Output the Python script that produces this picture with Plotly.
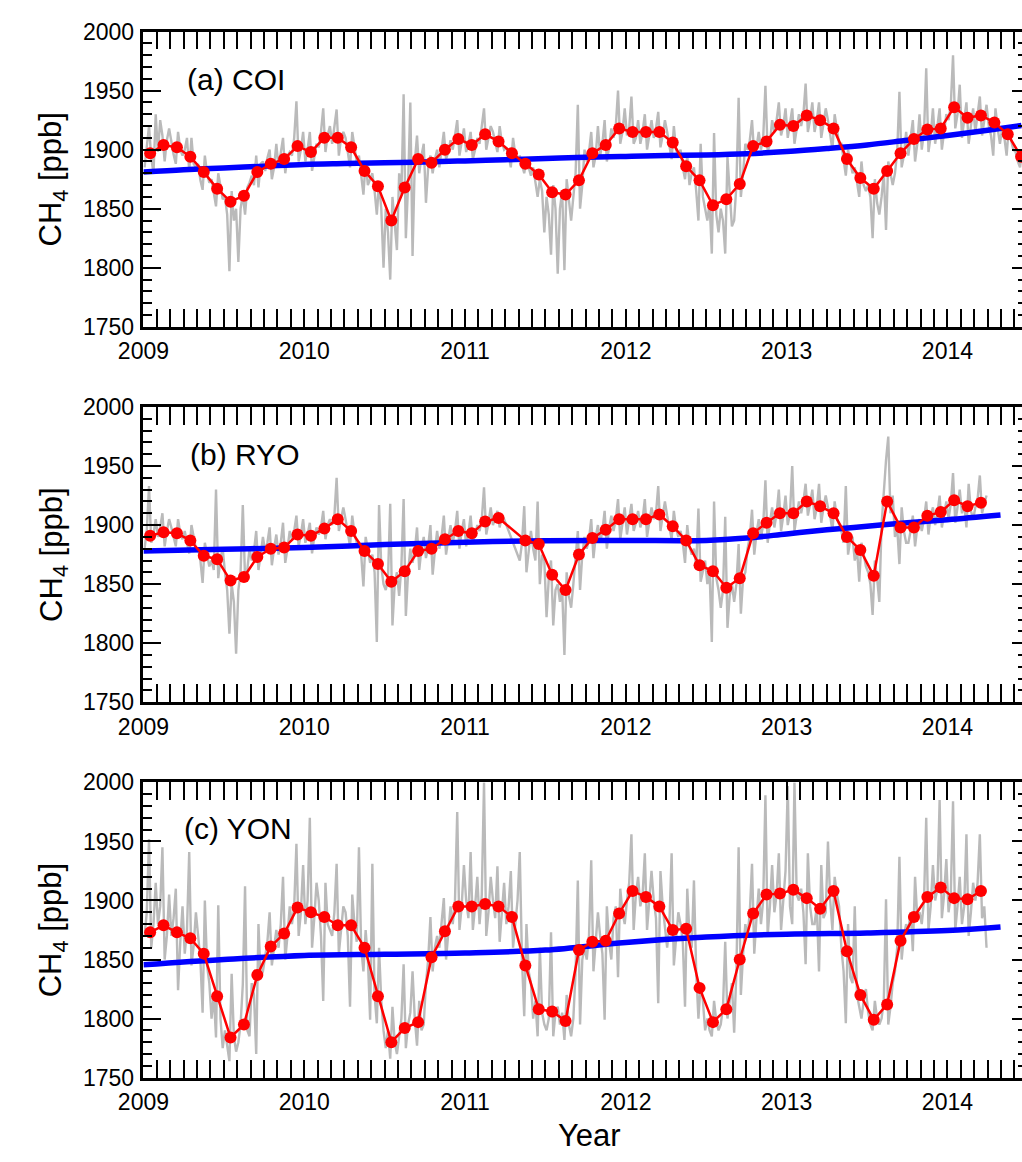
import plotly.graph_objects as go

# ---------------- data ----------------
YEAR_TICKS = [2009, 2010, 2011, 2012, 2013, 2014]
YEAR_LABELS = ["2009", "2010", "2011", "2012", "2013", "2014"]
HALF_YEAR_TICKS = [2009.5, 2010.5, 2011.5, 2012.5, 2013.5, 2014.5]
CH4_TICKS = [1750, 1800, 1850, 1900, 1950, 2000]
CH4_LABELS = ["1750", "1800", "1850", "1900", "1950", "2000"]
PANEL_NAMES = ["(a) COI", "(b) RYO", "(c) YON"]

# monthly means, one per month starting Jan 2009 (None = missing month)
coi_monthly = [1897, 1904, 1902, 1894, 1881, 1867, 1856, 1861, 1881, 1888, 1892, 1903,
               1898, 1910, 1910, 1902, 1882, 1869, 1840, 1868, 1892, 1889, 1900, 1909,
               1904, 1913, 1907, 1897, 1888, 1879, 1864, 1862, 1874, 1897, 1904, 1918,
               1915, 1915, 1915, 1906, 1886, 1874, 1853, 1858, 1871, 1903, 1907, 1921,
               1920, 1929, 1925, 1918, 1892, 1876, 1867, 1882, 1897, 1909, 1917, 1918,
               1936, 1927, 1929, 1923, 1913, 1894]
ryo_monthly = [1891, 1894, 1893, 1887, 1874, 1871, 1853, 1856, 1873, 1880, 1881, 1892,
               1891, 1897, 1905, 1895, 1878, 1867, 1852, 1861, 1878, 1880, 1888, 1895,
               1893, 1903, 1906, None, 1887, 1884, 1858, 1845, 1875, 1889, 1896, 1905,
               1905, 1905, 1909, 1899, 1887, 1866, 1861, 1847, 1855, 1893, 1902, 1910,
               1910, 1920, 1916, 1910, 1890, 1879, 1857, 1920, 1898, 1898, 1908, 1911,
               1921, 1916, 1919]
yon_monthly = [1873, 1879, 1873, 1868, 1855, 1819, 1784, 1795, 1837, 1861, 1872, 1894,
               1890, 1886, 1879, 1879, 1860, 1819, 1780, 1792, 1797, 1852, 1874, 1895,
               1895, 1897, 1895, 1886, 1845, 1808, 1806, 1798, 1858, 1865, 1866, 1889,
               1908, 1903, 1895, 1875, 1876, 1826, 1797, 1808, 1850, 1889, 1905, 1906,
               1909, 1902, 1893, 1908, 1857, 1820, 1799, 1812, 1866, 1886, 1903, 1911,
               1902, 1901, 1908]

# high-resolution record, several readings per month starting Jan 2009 ([] = no data)
coi_gray = [
    [1885, 1905, 1920, 1893, 1880, 1930], [1898, 1925, 1912, 1890, 1908, 1918], [1905, 1896, 1888, 1915, 1900, 1895],
    [1900, 1910, 1882, 1910, 1888, 1885], [1888, 1874, 1866, 1895, 1880, 1872], [1875, 1862, 1852, 1880, 1870, 1858],
    [1860, 1845, 1797, 1865, 1840, 1850], [1805, 1850, 1862, 1845, 1868, 1872], [1878, 1870, 1895, 1868, 1888, 1890],
    [1882, 1893, 1900, 1875, 1885, 1905], [1885, 1900, 1910, 1880, 1895, 1898], [1895, 1910, 1941, 1890, 1900, 1915],
    [1890, 1900, 1915, 1882, 1895, 1905], [1902, 1915, 1935, 1898, 1912, 1920], [1905, 1918, 1934, 1895, 1910, 1915],
    [1910, 1898, 1885, 1915, 1900, 1890], [1895, 1878, 1862, 1890, 1870, 1875], [1880, 1865, 1845, 1872, 1850, 1800],
    [1850, 1830, 1790, 1860, 1835, 1815], [1880, 1862, 1947, 1825, 1870, 1940], [1810, 1890, 1912, 1880, 1895, 1905],
    [1855, 1885, 1895, 1880, 1892, 1900], [1885, 1902, 1915, 1892, 1898, 1908], [1900, 1912, 1925, 1895, 1905, 1918],
    [1898, 1905, 1915, 1892, 1900, 1910], [1905, 1918, 1935, 1900, 1910, 1920], [1915, 1905, 1898, 1920, 1906, 1900],
    [1902, 1895, 1885, 1910, 1896, 1890], [1895, 1887, 1880, 1892, 1884, 1878], [1885, 1872, 1860, 1875, 1865, 1830],
    [1860, 1845, 1811, 1870, 1850, 1795], [1850, 1865, 1798, 1875, 1858, 1840], [1860, 1880, 1938, 1850, 1870, 1900],
    [1890, 1898, 1915, 1885, 1895, 1920], [1895, 1905, 1925, 1890, 1902, 1918], [1910, 1920, 1950, 1905, 1915, 1935],
    [1912, 1918, 1945, 1905, 1910, 1925], [1905, 1915, 1930, 1900, 1912, 1925], [1910, 1918, 1932, 1902, 1912, 1925],
    [1915, 1905, 1892, 1920, 1900, 1895], [1900, 1885, 1875, 1895, 1870, 1880], [1885, 1865, 1840, 1905, 1860, 1850],
    [1840, 1855, 1812, 1914, 1845, 1830], [1850, 1840, 1812, 1894, 1860, 1835], [1840, 1870, 1944, 1860, 1880, 1905],
    [1900, 1908, 1925, 1895, 1902, 1915], [1900, 1910, 1954, 1898, 1905, 1925], [1915, 1925, 1940, 1912, 1920, 1935],
    [1910, 1922, 1935, 1905, 1918, 1930], [1920, 1930, 1956, 1915, 1925, 1940], [1915, 1925, 1940, 1910, 1922, 1935],
    [1925, 1912, 1900, 1930, 1915, 1905], [1905, 1890, 1878, 1900, 1888, 1880], [1885, 1872, 1860, 1890, 1870, 1865],
    [1870, 1860, 1825, 1875, 1855, 1845], [1860, 1880, 1832, 1890, 1878, 1870], [1880, 1898, 1949, 1885, 1895, 1915],
    [1895, 1910, 1925, 1890, 1905, 1930], [1900, 1915, 1969, 1898, 1912, 1935], [1905, 1920, 1935, 1900, 1915, 1930],
    [1925, 1938, 1980, 1918, 1930, 1955], [1910, 1925, 1940, 1905, 1920, 1935], [1915, 1928, 1945, 1912, 1925, 1938],
    [1920, 1912, 1895, 1935, 1918, 1905], [1918, 1910, 1895, 1920, 1908, 1900], [1898, 1890, 1885, 1900, 1888, 1880],
]
ryo_gray = [
    [1880, 1895, 1933, 1885, 1892, 1905], [1890, 1898, 1910, 1882, 1895, 1905], [1898, 1890, 1882, 1905, 1893, 1888],
    [1895, 1885, 1876, 1900, 1888, 1880], [1880, 1870, 1851, 1885, 1875, 1865], [1870, 1862, 1930, 1855, 1872, 1880],
    [1860, 1845, 1808, 1850, 1835, 1791], [1845, 1860, 1917, 1855, 1862, 1880], [1870, 1878, 1895, 1862, 1875, 1890],
    [1878, 1885, 1898, 1866, 1880, 1892], [1875, 1885, 1902, 1868, 1880, 1895], [1888, 1895, 1908, 1882, 1892, 1905],
    [1885, 1892, 1902, 1876, 1890, 1898], [1892, 1898, 1912, 1888, 1900, 1905], [1900, 1908, 1940, 1895, 1905, 1915],
    [1905, 1895, 1882, 1908, 1893, 1885], [1885, 1875, 1848, 1890, 1878, 1868], [1875, 1860, 1801, 1917, 1865, 1850],
    [1845, 1855, 1918, 1815, 1850, 1860], [1840, 1865, 1922, 1823, 1860, 1880], [1868, 1878, 1898, 1862, 1880, 1890],
    [1872, 1882, 1900, 1858, 1878, 1895], [1880, 1890, 1908, 1875, 1888, 1900], [1885, 1895, 1912, 1880, 1895, 1905],
    [1882, 1893, 1908, 1885, 1892, 1900], [1895, 1905, 1932, 1892, 1902, 1915], [1900, 1906, 1912, 1898, 1908, 1905],
    [],
    [1870, 1885, 1916, 1860, 1880, 1895], [1880, 1870, 1920, 1850, 1875, 1870], [1822, 1855, 1870, 1815, 1845, 1850],
    [1835, 1845, 1790, 1860, 1840, 1830], [1850, 1870, 1895, 1845, 1875, 1890], [1880, 1888, 1905, 1872, 1890, 1900],
    [1885, 1895, 1912, 1880, 1897, 1908], [1895, 1905, 1922, 1888, 1903, 1915], [1892, 1905, 1918, 1895, 1902, 1912],
    [1898, 1905, 1922, 1890, 1903, 1915], [1905, 1910, 1933, 1895, 1908, 1920], [1908, 1898, 1888, 1912, 1897, 1890],
    [1895, 1885, 1868, 1900, 1882, 1875], [1880, 1865, 1914, 1852, 1860, 1870], [1850, 1860, 1801, 1920, 1855, 1845],
    [1830, 1845, 1907, 1813, 1840, 1850], [1835, 1850, 1884, 1825, 1855, 1860], [1880, 1890, 1913, 1875, 1893, 1905],
    [1890, 1900, 1938, 1885, 1902, 1915], [1898, 1910, 1930, 1895, 1908, 1925], [1900, 1910, 1950, 1895, 1908, 1920],
    [1910, 1920, 1935, 1908, 1918, 1930], [1905, 1915, 1935, 1902, 1915, 1925], [1915, 1908, 1895, 1920, 1906, 1900],
    [1895, 1885, 1933, 1875, 1888, 1890], [1870, 1880, 1852, 1885, 1875, 1865], [1860, 1850, 1824, 1870, 1855, 1835],
    [1900, 1930, 1955, 1975, 1910, 1925], [1890, 1898, 1867, 1915, 1895, 1885], [1885, 1895, 1908, 1882, 1898, 1905],
    [1895, 1905, 1920, 1892, 1908, 1915], [1900, 1910, 1925, 1898, 1910, 1920], [1905, 1918, 1944, 1902, 1915, 1930],
    [1910, 1918, 1898, 1935, 1912, 1905], [1915, 1922, 1942, 1910, 1918, 1925],
]
yon_gray = [
    [1870, 1890, 1952, 1860, 1880, 1915], [1880, 1895, 1945, 1850, 1870, 1905], [1870, 1885, 1910, 1824, 1865, 1895],
    [1855, 1875, 1941, 1845, 1862, 1890], [1870, 1850, 1805, 1900, 1845, 1830], [1800, 1820, 1784, 1896, 1800, 1775],
    [1790, 1778, 1764, 1838, 1785, 1772], [1780, 1795, 1829, 1912, 1790, 1785], [1830, 1820, 1770, 1880, 1835, 1840],
    [1851, 1865, 1890, 1845, 1860, 1875], [1860, 1880, 1920, 1850, 1870, 1895], [1880, 1895, 1948, 1870, 1890, 1930],
    [1880, 1900, 1970, 1860, 1885, 1915], [1900, 1870, 1815, 1915, 1880, 1875], [1870, 1890, 1931, 1855, 1875, 1895],
    [1890, 1870, 1810, 1905, 1880, 1865], [1945, 1860, 1840, 1875, 1850, 1799], [1931, 1820, 1796, 1860, 1815, 1790],
    [1775, 1790, 1766, 1810, 1780, 1770], [1785, 1800, 1846, 1775, 1795, 1805], [1840, 1800, 1777, 1815, 1790, 1795],
    [1830, 1850, 1886, 1840, 1860, 1870], [1860, 1880, 1902, 1850, 1875, 1895], [1880, 1900, 1975, 1875, 1895, 1930],
    [1900, 1885, 1941, 1875, 1895, 1920], [1880, 1905, 2000, 1870, 1890, 1920], [1900, 1885, 1929, 1865, 1890, 1915],
    [1880, 1895, 1925, 1860, 1880, 1900], [1941, 1850, 1802, 1880, 1840, 1830], [1800, 1815, 1785, 1860, 1805, 1795],
    [1790, 1800, 1873, 1785, 1805, 1810], [1795, 1805, 1782, 1820, 1795, 1785], [1800, 1840, 1917, 1795, 1850, 1860],
    [1850, 1870, 1934, 1840, 1865, 1890], [1870, 1855, 1799, 1895, 1865, 1850], [1885, 1895, 1835, 1910, 1890, 1880],
    [1900, 1915, 1956, 1875, 1905, 1920], [1895, 1905, 1940, 1875, 1900, 1925], [1900, 1885, 1813, 1925, 1895, 1880],
    [1860, 1880, 1940, 1845, 1870, 1890], [1880, 1865, 1810, 1910, 1870, 1860], [1917, 1840, 1800, 1830, 1815, 1790],
    [1800, 1790, 1785, 1815, 1798, 1790], [1795, 1810, 1865, 1800, 1815, 1830], [1788, 1840, 1945, 1820, 1855, 1880],
    [1870, 1890, 1931, 1855, 1885, 1910], [1880, 1900, 1989, 1870, 1895, 1930], [1890, 1905, 1940, 1875, 1900, 1925],
    [1997, 1895, 1880, 2000, 1905, 1900], [1910, 1890, 1846, 1940, 1895, 1880], [1880, 1895, 1840, 1930, 1885, 1890],
    [1950, 1900, 1875, 1920, 1905, 1895], [1860, 1840, 1796, 1880, 1835, 1830], [1895, 1820, 1810, 1800, 1815, 1825],
    [1805, 1795, 1790, 1815, 1800, 1795], [1800, 1815, 1901, 1795, 1810, 1830], [1840, 1860, 1937, 1850, 1870, 1880],
    [1875, 1890, 1857, 1920, 1885, 1890], [1880, 1900, 1970, 1875, 1895, 1930], [1900, 1910, 1985, 1885, 1905, 1935],
    [1890, 1905, 1984, 1875, 1895, 1920], [1880, 1895, 1956, 1870, 1890, 1915], [1900, 1915, 1956, 1885, 1895, 1860],
]

# long-term trend curves
coi_trend_x = [2009.0, 2009.25, 2009.5, 2009.75, 2010.0, 2010.25, 2010.5, 2010.75, 2011.0, 2011.25, 2011.5,
               2011.75, 2012.0, 2012.25, 2012.5, 2012.75, 2013.0, 2013.25, 2013.5, 2013.75, 2014.0, 2014.25, 2014.46]
coi_trend_y = [1881, 1883, 1884.5, 1886, 1887.5, 1888.3, 1889, 1889.6, 1890.5, 1891.5, 1892.5,
               1893.5, 1894.3, 1895, 1895.5, 1896.5, 1898.4, 1901, 1904, 1908, 1912, 1916.5, 1920.5]
ryo_trend_x = [2009.0, 2009.5, 2010.0, 2010.5, 2011.0, 2011.5, 2012.0, 2012.5, 2012.75, 2013.0, 2013.25,
               2013.5, 2013.75, 2014.0, 2014.33]
ryo_trend_y = [1878, 1879.5, 1881, 1883.5, 1885.5, 1886.8, 1887, 1887, 1889, 1892.5, 1896,
               1899, 1902, 1904.5, 1908.5]
yon_trend_x = [2009.0, 2009.5, 2010.0, 2010.5, 2011.0, 2011.5, 2012.0, 2012.5, 2013.0, 2013.5, 2014.0, 2014.33]
yon_trend_y = [1845.5, 1850, 1853.5, 1854.5, 1855.5, 1858, 1864.5, 1869, 1871.5, 1872.5, 1874.5, 1877.5]

# ---------------- helpers ----------------
def monthly_xy(vals):
    xs, ys = [], []
    for i, v in enumerate(vals):
        xs.append(2009 + (i + 0.5) / 12)
        ys.append(v)
    return xs, ys


def gray_xy(groups):
    xs, ys = [], []
    for i, g in enumerate(groups):
        n = len(g)
        for k, v in enumerate(g):
            xs.append(2009 + (i + (k + 0.5) / n) / 12)
            ys.append(v)
    return xs, ys


W, H = 1022, 1162
FONT = "Liberation Sans, Arial, sans-serif"
X_LEFT_PX = 120.5
X_RANGE = [2009, 2009 + (W - X_LEFT_PX) / 165.0]
PANEL_PX = [(19, 321), (403, 705), (787, 1089)]
LABEL_POS = [(163, 68), (166, 452), (160, 834)]

panels = [
    (coi_monthly, coi_gray, coi_trend_x, coi_trend_y),
    (ryo_monthly, ryo_gray, ryo_trend_x, ryo_trend_y),
    (yon_monthly, yon_gray, yon_trend_x, yon_trend_y),
]

fig = go.Figure()
layout = dict(
    width=W, height=H, autosize=False,
    margin=dict(l=0, r=0, t=0, b=0, pad=0),
    paper_bgcolor="white", plot_bgcolor="white",
    showlegend=False,
    font=dict(family=FONT, color="black", size=23),
)
annotations = []

for p, (monthly, gray, tx, ty) in enumerate(panels):
    n = p + 1
    xs = "" if n == 1 else str(n)
    xa, ya = "x" + xs, "y" + xs
    top_px, bot_px = PANEL_PX[p]
    ydom = [1 - bot_px / H, 1 - top_px / H]
    xdom = [X_LEFT_PX / W, 1.0]

    gx, gy = gray_xy(gray)
    fig.add_trace(go.Scatter(x=gx, y=gy, mode="lines", xaxis=xa, yaxis=ya,
                             line=dict(color="#bababa", width=2.4), hoverinfo="skip"))
    fig.add_trace(go.Scatter(x=tx, y=ty, mode="lines", xaxis=xa, yaxis=ya,
                             line=dict(color="#0000ff", width=5.5, shape="spline"), hoverinfo="skip"))
    mx, my = monthly_xy(monthly)
    fig.add_trace(go.Scatter(x=mx, y=my, mode="lines+markers", xaxis=xa, yaxis=ya, connectgaps=True,
                             line=dict(color="#ff0000", width=2.5),
                             marker=dict(color="#ff0000", size=12, line=dict(width=0))))

    # overlay axes for extra tick levels (half-year ticks, right-side ticks)
    xo = str(n + 3)
    fig.add_trace(go.Scatter(x=[None], y=[None], xaxis="x" + xo, yaxis=ya, hoverinfo="skip"))
    fig.add_trace(go.Scatter(x=[None], y=[None], xaxis=xa, yaxis="y" + xo, hoverinfo="skip"))

    layout["xaxis" + xs] = dict(
        domain=xdom, anchor=ya, range=X_RANGE, tickmode="array",
        tickvals=YEAR_TICKS, ticktext=YEAR_LABELS,
        ticks="inside", ticklen=18, tickwidth=2.2, tickcolor="black",
        showline=True, linewidth=2.5, linecolor="black", mirror="allticks",
        showgrid=False, zeroline=False, ticklabelstandoff=2,
        tickfont=dict(size=23, family=FONT),
        minor=dict(dtick=1 / 12, tick0=2009, ticks="inside", ticklen=9, tickwidth=2.2,
                   tickcolor="black", showgrid=False),
    )
    layout["xaxis" + xo] = dict(
        overlaying=xa, anchor=ya, range=X_RANGE, tickmode="array",
        tickvals=HALF_YEAR_TICKS, ticks="inside", ticklen=13, tickwidth=2.2, tickcolor="black",
        showticklabels=False, showline=False, mirror="ticks", showgrid=False, zeroline=False,
    )
    layout["yaxis" + xs] = dict(
        domain=ydom, anchor=xa, range=[1750, 2000], tickmode="array",
        tickvals=CH4_TICKS, ticktext=CH4_LABELS,
        ticks="inside", ticklen=18, tickwidth=2.2, tickcolor="black",
        showline=True, linewidth=2.5, linecolor="black", mirror=False,
        showgrid=False, zeroline=False, ticklabelstandoff=2,
        tickfont=dict(size=23, family=FONT),
        minor=dict(dtick=10, tick0=1750, ticks="inside", ticklen=9, tickwidth=2.2,
                   tickcolor="black", showgrid=False),
    )
    layout["yaxis" + xo] = dict(
        overlaying=ya, anchor=xa, side="right", range=[1750, 2000], tickmode="array",
        tickvals=CH4_TICKS, ticks="inside", ticklen=10, tickwidth=2.2, tickcolor="black",
        showticklabels=False, showline=False, showgrid=False, zeroline=False,
        minor=dict(dtick=10, tick0=1750, ticks="inside", ticklen=4, tickwidth=2.2,
                   tickcolor="black", showgrid=False),
    )

    lx, ly = LABEL_POS[p]
    annotations.append(dict(text=PANEL_NAMES[p], x=lx / W, y=1 - ly / H, xref="paper", yref="paper",
                            xanchor="left", yanchor="middle", showarrow=False,
                            font=dict(size=30, family=FONT, color="black")))
    annotations.append(dict(text="CH<sub>4</sub> [ppb]", x=28 / W, y=1 - (top_px + bot_px) / 2 / H,
                            xref="paper", yref="paper", xanchor="center", yanchor="middle",
                            textangle=-90, showarrow=False,
                            font=dict(size=31, family=FONT, color="black")))

annotations.append(dict(text="Year", x=578 / W, y=1 - 1148 / H, xref="paper", yref="paper",
                        xanchor="center", yanchor="middle", showarrow=False,
                        font=dict(size=31, family=FONT, color="black")))
layout["annotations"] = annotations
fig.update_layout(**layout)

fig.write_html("out.html", config={"displayModeBar": False},
               post_script="document.body.style.margin='0';document.body.style.overflow='hidden';")
